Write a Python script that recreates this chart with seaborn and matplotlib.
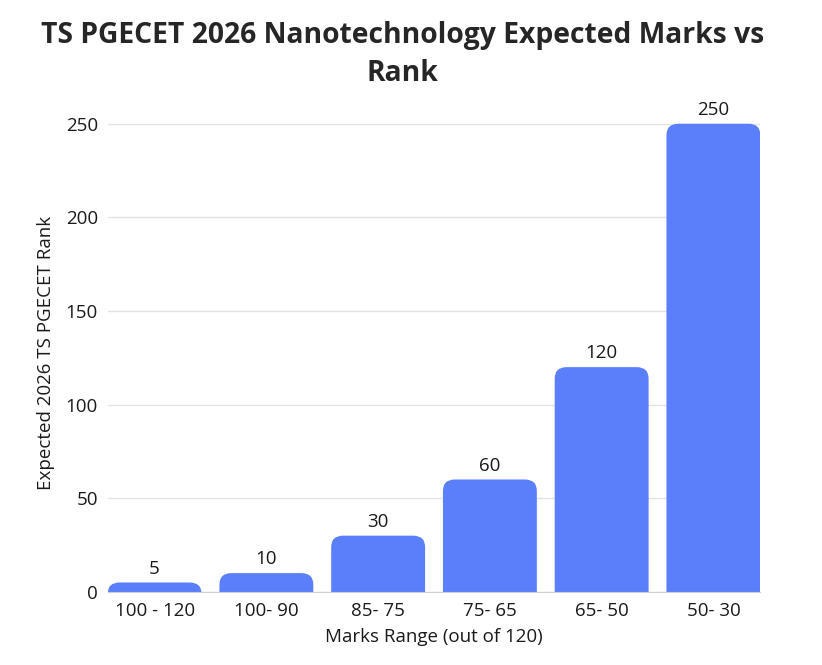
import matplotlib
matplotlib.use('Agg')
import matplotlib.pyplot as plt
import seaborn as sns
import pandas as pd
from matplotlib.patches import FancyBboxPatch

# Datos
rangos = ['100 - 120', '100- 90', '85- 75', '75- 65', '65- 50', '50- 30']
rangos_esperados = [5, 10, 30, 60, 120, 250]
marcas_y = [0, 50, 100, 150, 200, 250]

df = pd.DataFrame({'Rango': rangos, 'Rank': rangos_esperados})

sns.set_style('white')
plt.rcParams['font.family'] = ['Open Sans', 'DejaVu Sans']

fig = plt.figure(figsize=(8.22, 6.65), dpi=100)
ax = fig.add_axes([0.131, 0.110, 0.794, 0.718])

color_barra = '#5B7EFA'
sns.barplot(data=df, x='Rango', y='Rank', color=color_barra, width=0.84,
            saturation=1, ax=ax)

# Reemplazar barras por rectángulos redondeados
aspecto = 59
for p in list(ax.patches):
    x0, w, h = p.get_x(), p.get_width(), p.get_height()
    p.remove()
    caja = FancyBboxPatch((x0, -12), w, h + 12,
                          boxstyle='round,pad=0,rounding_size=0.105',
                          mutation_aspect=aspecto, facecolor=color_barra,
                          edgecolor='none', zorder=2)
    ax.add_patch(caja)
    ax.text(x0 + w / 2, h + 2.5, f'{h:g}', ha='center', va='bottom',
            fontsize=13.5, color='#1a1a1a')

ax.set_xlim(-0.42, 5.42)
ax.set_ylim(0, 255)
ax.set_yticks(marcas_y)
ax.yaxis.grid(True, color='#E3E3E3', linewidth=1)
ax.set_axisbelow(True)
for lado in ['top', 'right', 'left']:
    ax.spines[lado].set_visible(False)
ax.spines['bottom'].set_color('#D0D0D0')
ax.tick_params(axis='both', length=0, labelsize=13.5, colors='#1a1a1a', pad=7)

ax.set_xlabel('Marks Range (out of 120)', fontsize=13.5, color='#1a1a1a', labelpad=6)
ax.set_ylabel('Expected 2026 TS PGECET Rank', fontsize=13.5, color='#1a1a1a', labelpad=8)

fig.suptitle('TS PGECET 2026 Nanotechnology Expected Marks vs\nRank',
             x=0.49, y=0.968, fontsize=20.3, fontweight='bold', linespacing=1.4)

fig.savefig('out.png', dpi=100)
